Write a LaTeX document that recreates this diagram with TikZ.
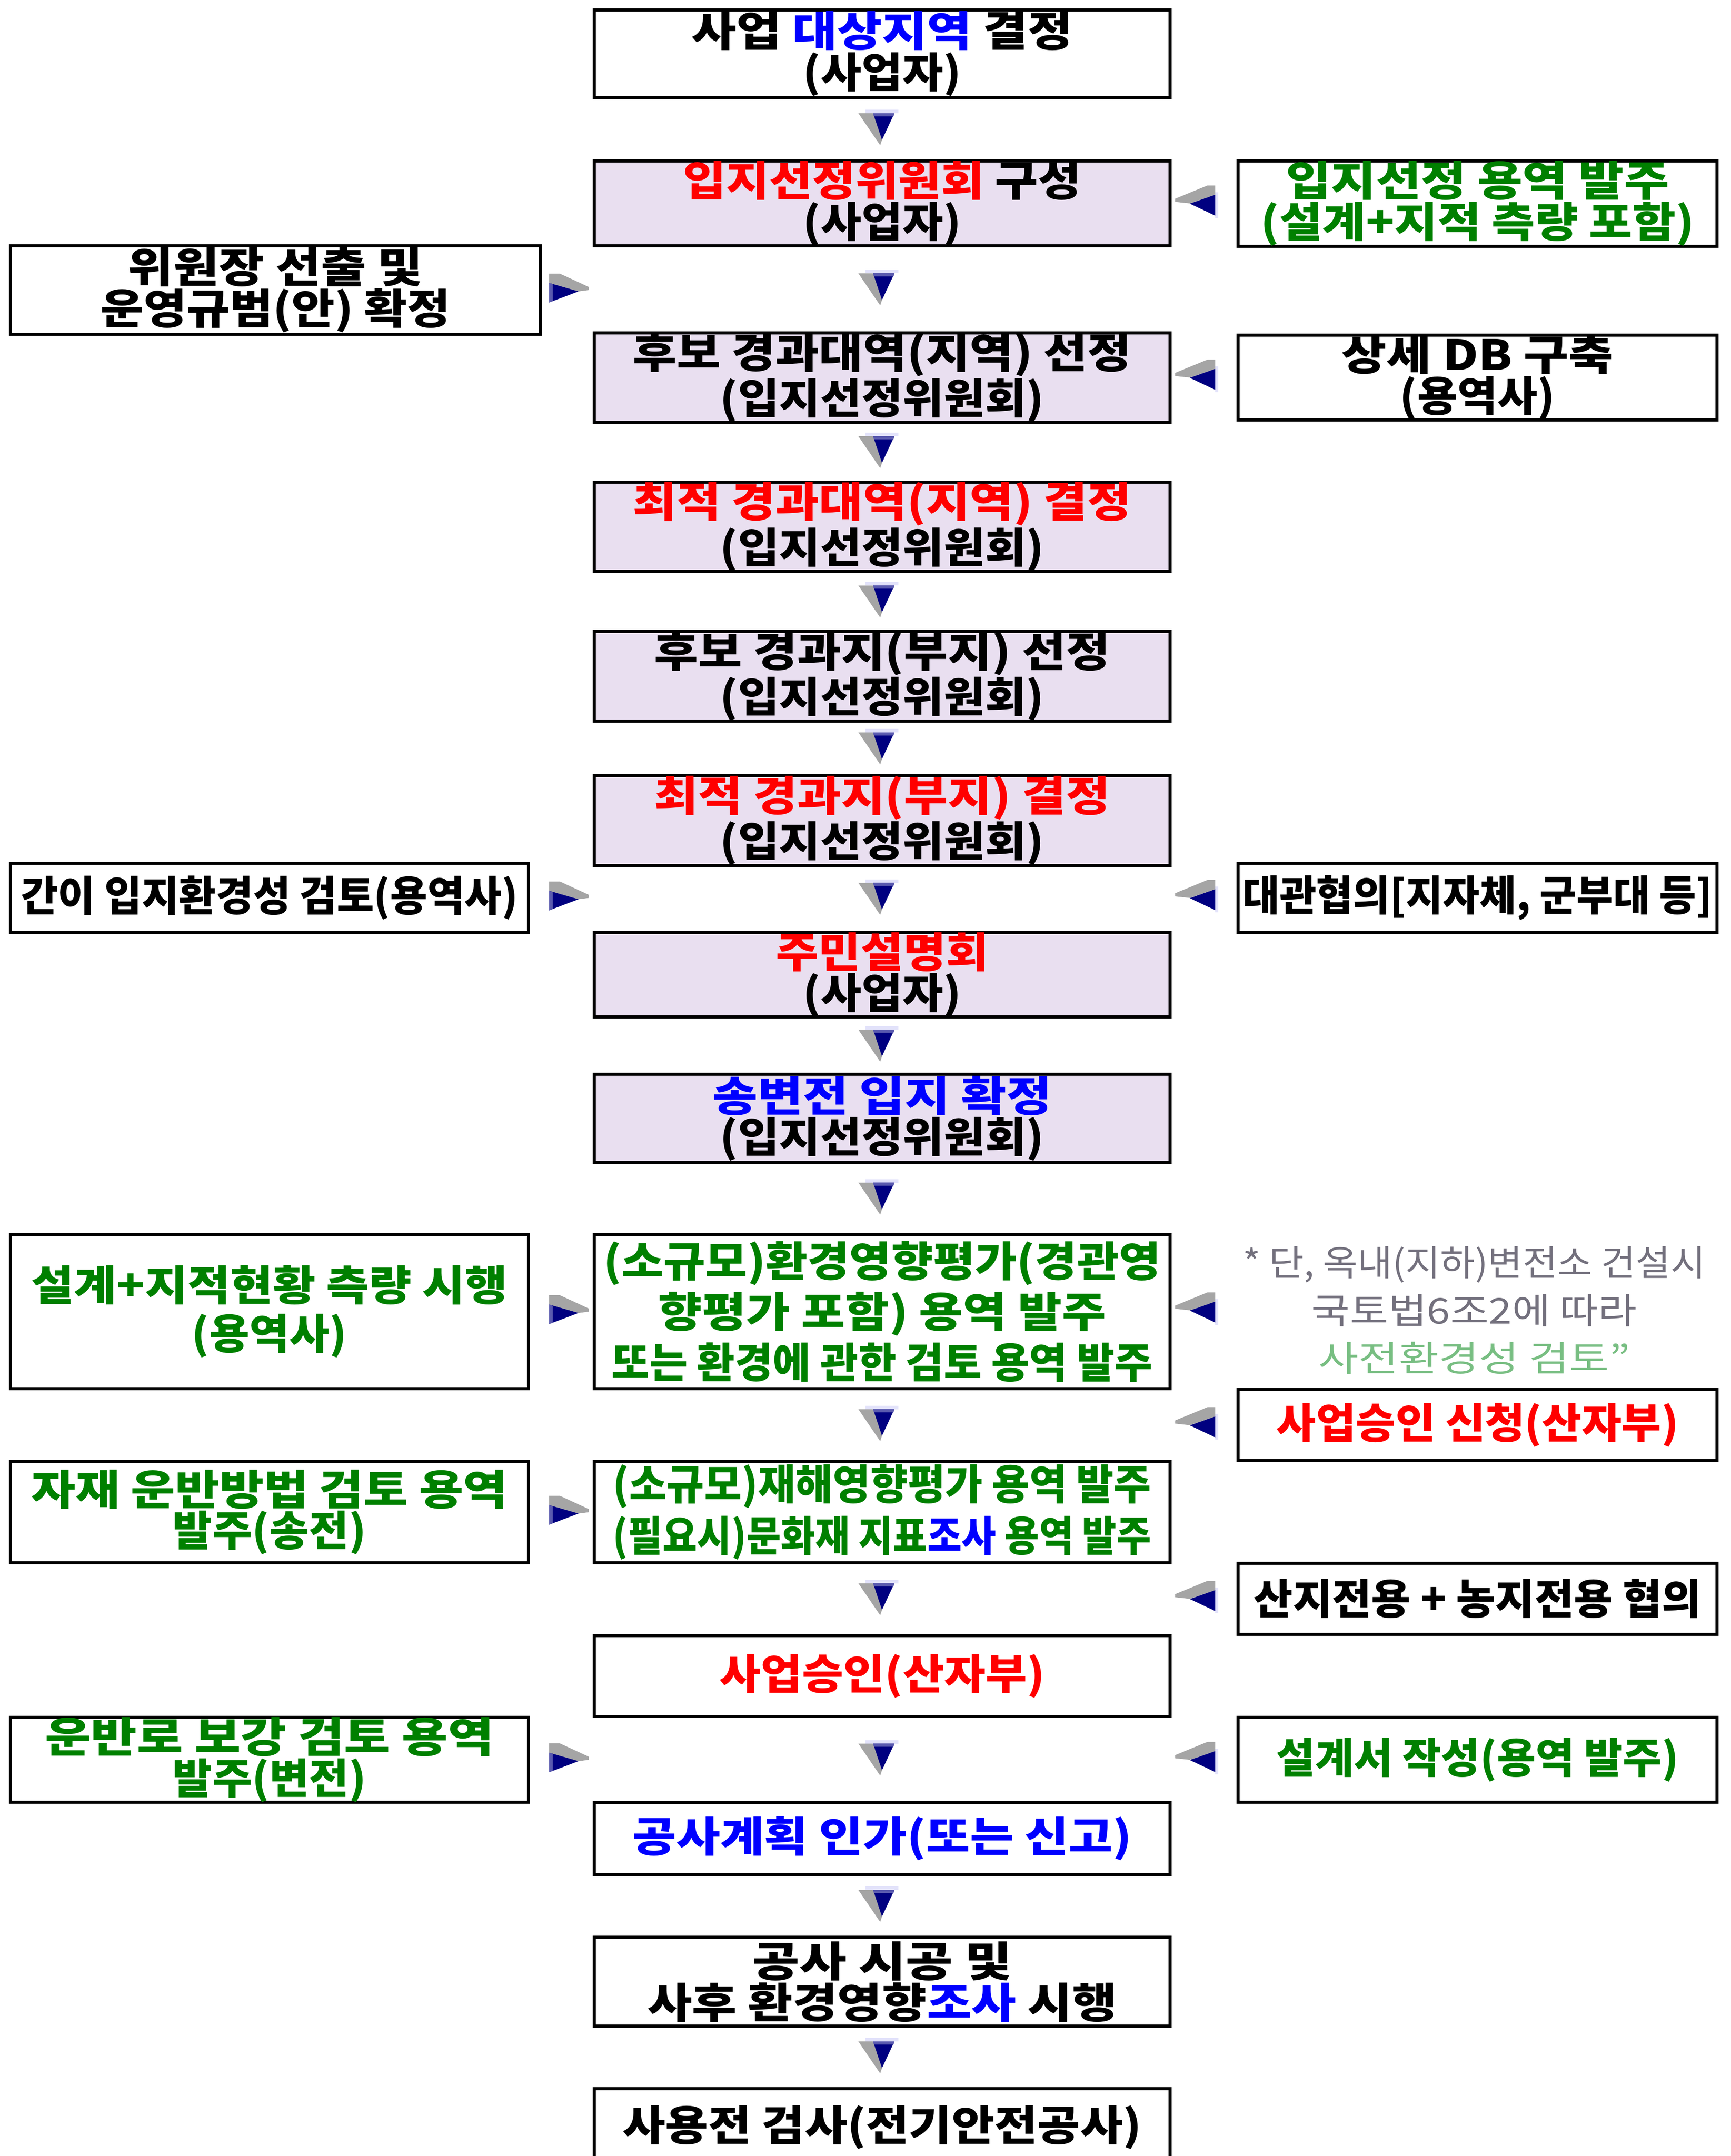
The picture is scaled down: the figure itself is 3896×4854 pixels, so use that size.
\documentclass[tikz,border=0pt]{standalone}
\usepackage{fontspec}
\usepackage{graphicx}
\setmainfont{Noto Sans CJK KR}
\usetikzlibrary{calc}
\definecolor{lavfill}{RGB}{233,223,240}
\definecolor{tred}{RGB}{255,0,0}
\definecolor{tblue}{RGB}{0,0,255}
\definecolor{tgreen}{RGB}{0,128,0}
\definecolor{notegray}{RGB}{115,112,125}
\definecolor{notegreen}{RGB}{120,190,130}
\definecolor{arrnavy}{RGB}{0,0,128}
\definecolor{arrgray}{RGB}{165,165,165}
\definecolor{arrmid}{RGB}{90,90,175}
\definecolor{arrlight}{RGB}{226,226,250}
\newlength\fltmp
\newcommand\fl[2]{\settowidth\fltmp{#2}\pgfmathsetmacro\flr{#1*0.7725/\fltmp}\scalebox{\flr}[1]{#2}}
\newcommand\B[1]{\textcolor{tblue}{#1}}
\newcommand\R[1]{\textcolor{tred}{#1}}
\tikzset{
  box/.style={draw=black, line width=1.75pt, inner sep=0pt, align=center, fill=white,
    font=\fontsize{23.5pt}{21.75pt}\selectfont\bfseries},
  lav/.style={box, fill=lavfill},
  bs/.style n args={2}{minimum width=#1*0.25pt-1.75pt, minimum height=#2*0.25pt-1.75pt},
  lsp/.style={font=\fontsize{23.5pt}{#1}\selectfont\bfseries},
  darr/.pic={
    \fill[arrlight] (-37.5,-44) rectangle (36.5,-36);
    \fill[arrgray] (-53.5,-36) -- (-20.5,-36) -- (-0.5,24) -- (-4.5,36) -- cycle;
    \fill[arrnavy] (-20.5,-36) -- (27.5,-36) -- (-0.5,24) -- cycle;
    \fill[arrmid] (-20.5,-36) -- (27.5,-36) -- (25.5,-29) -- (-18.5,-29) -- cycle;
  },
  larr/.pic={
    \fill[arrlight] (28.5,-29.5) rectangle (35.5,28.5);
    \fill[arrgray] (11.5,-44.5) -- (28.5,-44.5) -- (28.5,-23.5) -- (-28.5,-4) -- (-61.5,-7.5) -- (-61.5,-14.5) -- cycle;
    \fill[arrnavy] (28.5,-23.5) -- (28.5,23.5) -- (-28.5,-3.5) -- cycle;
  },
  rarr/.pic={
    \fill[arrgray] (-33,-43) -- (-9,-43) -- (56,-13) -- (56,-6) -- (33,-3) -- (-33,-22) -- cycle;
    \fill[arrnavy] (-33,-22) -- (-33,22) -- (33,-3) -- cycle;
    \fill[arrmid] (-33,-22) -- (-25,-19) -- (-25,19) -- (-33,22) -- cycle;
  }
}
\begin{document}
\begin{tikzpicture}[x=0.25pt,y=-0.25pt]
\useasboundingbox (0,0) rectangle (3896,4854);
\clip (0,0) rectangle (3896,4854);
\fill[white] (0,0) rectangle (3896,4854);

% main column
\node[box, bs={1303}{204}] (b1) at (1985.5,121) {\fl{278}{사업 \B{대상지역} 결정}\\\fl{115}{(사업자)}};
\node[lav, bs={1303}{198}] (b2) at (1985.5,458) {\fl{290}{\R{입지선정위원회} 구성}\\\fl{115}{(사업자)}};
\node[lav, bs={1303}{198}] (b3) at (1985.5,850) {\fl{363}{후보 경과대역(지역) 선정}\\\fl{236}{(입지선정위원회)}};
\node[lav, bs={1303}{206}] (b4) at (1985.5,1186) {\fl{363}{\R{최적 경과대역(지역) 결정}}\\\fl{236}{(입지선정위원회)}};
\node[lav, bs={1303}{199}] (b5) at (1985.5,1522.5) {\fl{332}{후보 경과지(부지) 선정}\\\fl{236}{(입지선정위원회)}};
\node[lav, bs={1303}{199}] (b6) at (1985.5,1847.5) {\fl{332}{\R{최적 경과지(부지) 결정}}\\\fl{236}{(입지선정위원회)}};
\node[lav, bs={1303}{197}] (b7) at (1985.5,2194.5) {\fl{155}{\R{주민설명회}}\\\fl{115}{(사업자)}};
\node[lav, bs={1303}{206}] (b8) at (1985.5,2518) {\fl{247}{\B{송변전 입지 확정}}\\\fl{236}{(입지선정위원회)}};
\node[box, bs={1303}{354}, lsp=28.5pt, text=tgreen] (b9) at (1985.5,2953) {\fl{406}{(소규모)환경영향평가(경관영}\\\fl{326}{향평가 포함) 용역 발주}\\\fl{394}{또는 환경에 관한 검토 용역 발주}};
\node[box, bs={1303}{235}, lsp=29pt, text=tgreen] (b10) at (1985.5,3404.5) {\fl{392}{(소규모)재해영향평가 용역 발주}\\\fl{392}{(필요시)문화재 지표\B{조사} 용역 발주}};
\node[box, bs={1303}{189}, text=tred] (b11) at (1985.5,3773.5) {\fl{237}{사업승인(산자부)}};
\node[box, bs={1303}{169}, text=tblue] (b12) at (1985.5,4139.5) {\fl{364}{공사계획 인가(또는 신고)}};
\node[box, bs={1303}{207}, lsp=22.2pt] (b13) at (1985.5,4461.5) {\fl{189}{공사 시공 및}\\\fl{342}{사후 환경영향\B{조사} 시행}};
\node[box, bs={1303}{181}] (b14) at (1985.5,4789.5) {\fl{378}{사용전 검사(전기안전공사)}};

% right column
\node[box, bs={1085}{199}, text=tgreen] (ra) at (3325.5,458) {\fl{279}{입지선정 용역 발주}\\\fl{316}{(설계+지적 측량 포함)}};
\node[box, bs={1085}{198}] (rb) at (3325.5,850) {\fl{198}{상세 DB 구축}\\\fl{113}{(용역사)}};
\node[box, bs={1085}{163}] (r3) at (3325.5,2021.5) {\fl{342}{대관협의[지자체, 군부대 등]}};
\node[align=center, inner sep=0pt, text=notegray, font=\fontsize{20pt}{26.8pt}\selectfont] (note) at (3318,2950)
  {\fl{337}{* 단, 옥내(지하)변전소 건설시}\\\fl{237}{국토법6조2에 따라}\\\fl{227}{\textcolor{notegreen}{사전환경성 검토"}}};
\node[box, bs={1085}{167}, text=tred] (r5) at (3325.5,3208.5) {\fl{293}{사업승인 신청(산자부)}};
\node[box, bs={1085}{167}] (r7) at (3325.5,3599.5) {\fl{326}{산지전용 + 농지전용 협의}};
\node[box, bs={1085}{198}, text=tgreen] (r8) at (3325.5,3962) {\fl{293}{설계서 작성(용역 발주)}};

% left column
\node[box, bs={1200}{206}, lsp=22.25pt] (l1) at (620,653) {\fl{215}{위원장 선출 및}\\\fl{255}{운영규범(안) 확정}};
\node[box, bs={1173}{163}] (l2) at (606.5,2021.5) {\fl{362}{간이 입지환경성 검토(용역사)}};
\node[box, bs={1173}{354}, lsp=27.2pt, text=tgreen] (l4) at (606.5,2953) {\fl{347}{설계+지적현황 측량 시행}\\\fl{113}{(용역사)}};
\node[box, bs={1173}{235}, lsp=21.5pt, text=tgreen] (l6) at (606.5,3404.5) {\fl{347}{자재 운반방법 검토 용역}\\\fl{141}{발주(송전)}};
\node[box, bs={1173}{198}, lsp=23.1pt, text=tgreen] (l8) at (606.5,3962) {\fl{327}{운반로 보강 검토 용역}\\\fl{141}{발주(변전)}};

% down arrows
\foreach \a/\b in {b1/b2,b2/b3,b3/b4,b4/b5,b5/b6,b6/b7,b7/b8,b8/b9,b9/b10,b10/b11,b11/b12,b12/b13,b13/b14}
  \pic at ($(\a.south)!0.5!(\b.north)$) {darr};

% side arrows
\coordinate (lc) at (2706.5,0);
\coordinate (rc) at (1269,0);
\foreach \n in {ra,rb,r3,note,r5,r7,r8}
  \pic at ($(lc |- \n.center)+(0,4)$) {larr};
\foreach \n in {l1,l2,l4,l6,l8}
  \pic at ($(rc |- \n.center)+(0,6)$) {rarr};
\end{tikzpicture}
\end{document}
